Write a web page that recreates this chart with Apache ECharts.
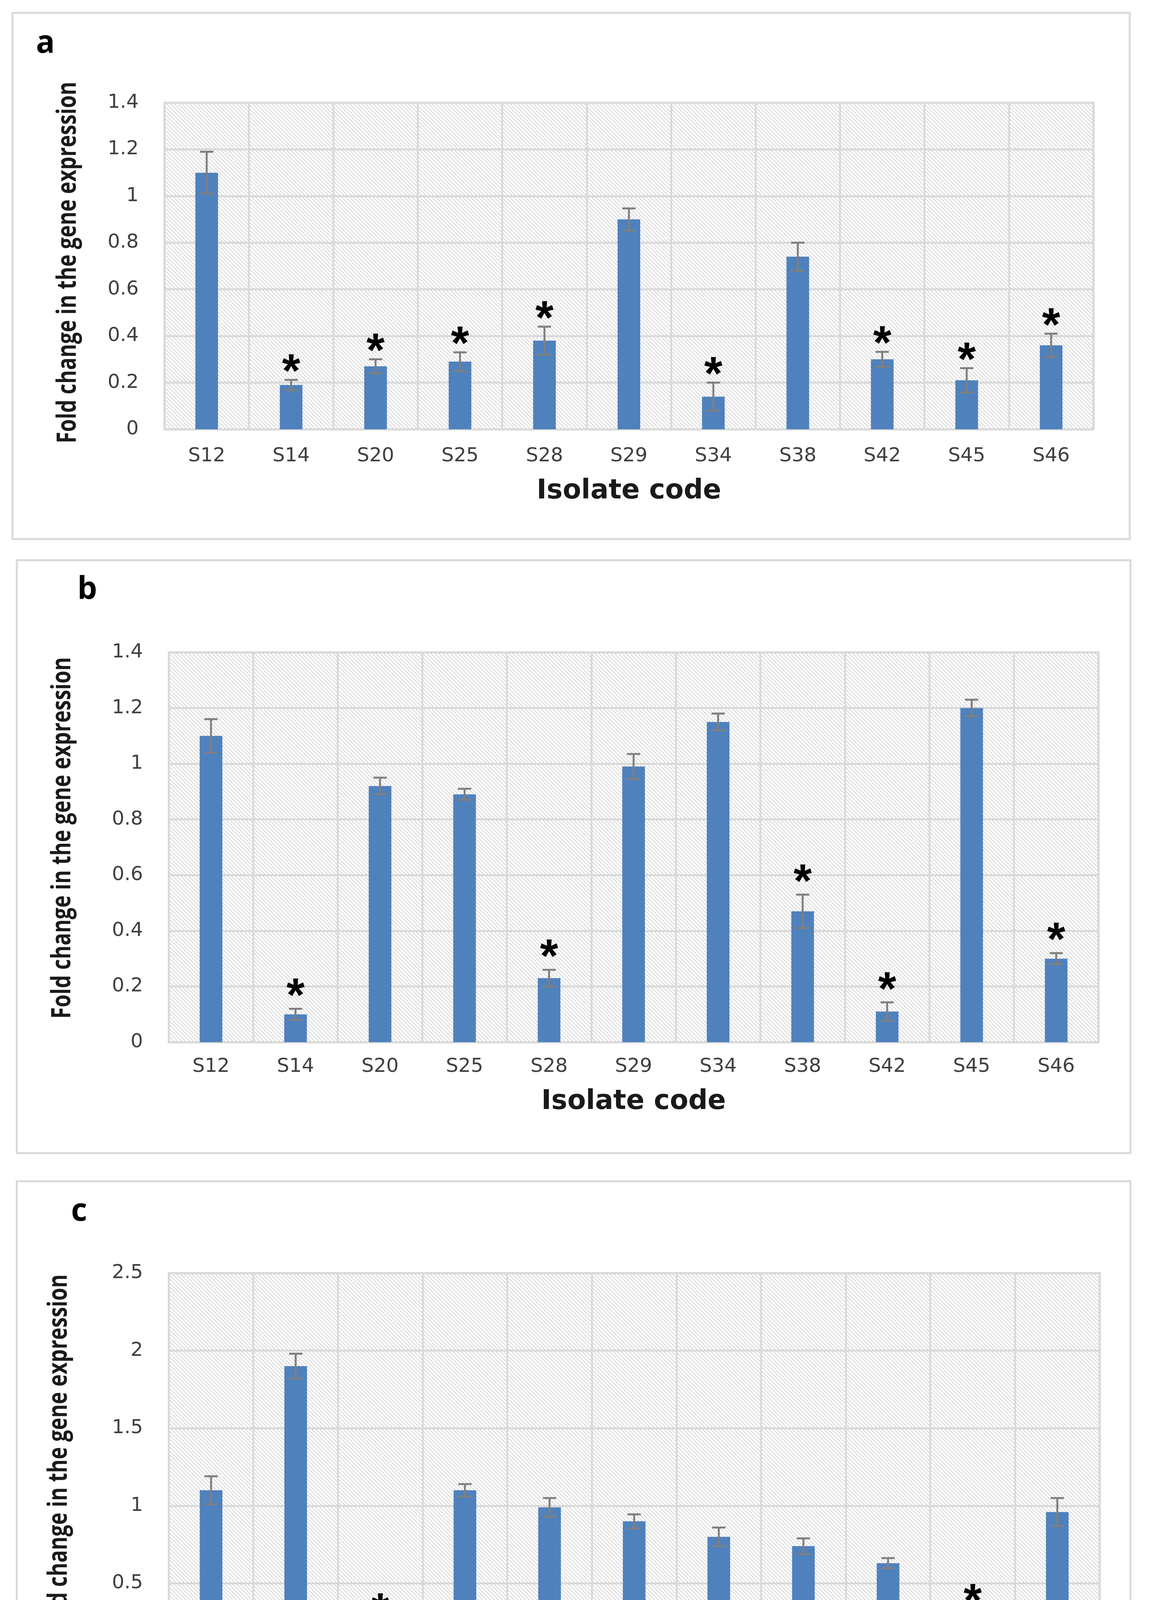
<!DOCTYPE html>
<html>
<head>
<meta charset="utf-8">
<script src="https://cdn.jsdelivr.net/npm/echarts@6/dist/echarts.min.js"></script>
<style>
html,body{margin:0;padding:0;background:#fff;overflow:hidden;}
#chart{width:2944px;height:4563px;}
</style>
</head>
<body>
<div id="chart"></div>
<script>
// ---- data ----
const categories = ['S12','S14','S20','S25','S28','S29','S34','S38','S42','S45','S46'];

const valuesA = [1.10, 0.19, 0.27, 0.29, 0.38, 0.90, 0.14, 0.74, 0.30, 0.21, 0.36];
const errorsA = [0.09, 0.022, 0.03, 0.04, 0.06, 0.047, 0.06, 0.06, 0.032, 0.052, 0.05];
const starsA  = [0, 1, 1, 1, 1, 0, 1, 0, 1, 1, 1];

const valuesB = [1.10, 0.10, 0.92, 0.89, 0.23, 0.99, 1.15, 0.47, 0.11, 1.20, 0.30];
const errorsB = [0.06, 0.02, 0.03, 0.02, 0.03, 0.045, 0.03, 0.06, 0.033, 0.03, 0.02];
const starsB  = [0, 1, 0, 0, 1, 0, 0, 1, 1, 0, 1];

const valuesC = [1.10, 1.90, 0.20, 1.10, 0.99, 0.90, 0.80, 0.74, 0.63, 0.21, 0.96];
const errorsC = [0.09, 0.08, 0.03, 0.04, 0.06, 0.045, 0.06, 0.05, 0.033, 0.08, 0.09];
const starsC  = [0, 0, 1, 0, 0, 0, 0, 0, 0, 1, 0];

const yMaxAB = 1.4, yStepAB = 0.2;
const yMaxC = 2.5, yStepC = 0.5;
const panelLetters = ['a', 'b', 'c'];
const xTitle = 'Isolate code';
const yTitle = 'Fold change in the gene expression';

// ---- styling ----
const BAR = '#4F81BD';
const GRIDC = '#d9d9d9';
const ERRC = '#7f7f7f';
const TICKFONT = '"DejaVu Sans", sans-serif';
const TITLEFONT = '"Open Sans", "Noto Sans", sans-serif';

// hatch pattern
const pc = document.createElement('canvas');
pc.width = 10; pc.height = 10;
const g = pc.getContext('2d');
g.fillStyle = '#ffffff'; g.fillRect(0,0,10,10);
g.strokeStyle = '#c4c4c4'; g.lineWidth = 1.4;
g.beginPath();
g.moveTo(-1,-1); g.lineTo(11,11);
g.moveTo(-6,4); g.lineTo(6,16);
g.moveTo(4,-6); g.lineTo(16,6);
g.stroke();
const hatch = {image: pc, repeat: 'repeat'};

const grids = [
  {left: 421, top: 263, width: 2378, height: 836},
  {left: 432, top: 1670, width: 2380, height: 998},
  {left: 432, top: 3259, width: 2383, height: 993}
];
const xLabelMargins = [44, 38, 32];
const xNameGaps = [125, 119, 115];
const yTitlePos = [[174, 672], [160, 2145], [151, 3725]];
const starGaps = [42, 54, 58];
const panels = [
  {v: valuesA, e: errorsA, s: starsA, max: yMaxAB, step: yStepAB},
  {v: valuesB, e: errorsB, s: starsB, max: yMaxAB, step: yStepAB},
  {v: valuesC, e: errorsC, s: starsC, max: yMaxC, step: yStepC}
];

const STARF = 120;

const option = {
  animation: false,
  backgroundColor: '#ffffff',
  grid: grids.map(gr => Object.assign({show: true, backgroundColor: hatch, borderColor: GRIDC, borderWidth: 5}, gr)),
  xAxis: panels.map((p, i) => ({
    type: 'category', gridIndex: i, data: categories,
    axisLine: {show: true, lineStyle: {color: GRIDC, width: 5}},
    axisTick: {show: false},
    splitLine: {show: true, lineStyle: {color: GRIDC, width: 5}},
    axisLabel: {fontSize: 50, color: '#404040', fontFamily: TICKFONT, margin: xLabelMargins[i]},
    name: xTitle, nameLocation: 'middle', nameGap: xNameGaps[i],
    nameTextStyle: {fontSize: 69, fontWeight: 'bold', color: '#1a1a1a', fontFamily: TICKFONT}
  })),
  yAxis: panels.map((p, i) => ({
    type: 'value', gridIndex: i, min: 0, max: p.max, interval: p.step,
    axisLine: {show: false}, axisTick: {show: false},
    splitLine: {show: true, lineStyle: {color: GRIDC, width: 5}},
    axisLabel: {fontSize: 50, color: '#404040', fontFamily: TICKFONT, margin: 66}
  })),
  series: [],
  graphic: [
    {type: 'rect', shape: {x: 32, y: 33, width: 2860, height: 1347}, style: {fill: 'none', stroke: GRIDC, lineWidth: 5}, z: -1},
    {type: 'rect', shape: {x: 43, y: 1434, width: 2851, height: 1518}, style: {fill: 'none', stroke: GRIDC, lineWidth: 5}, z: -1},
    {type: 'rect', shape: {x: 43, y: 3024, width: 2851, height: 1494}, style: {fill: 'none', stroke: GRIDC, lineWidth: 5}, z: -1},
    {type: 'text', left: 92, top: 72, style: {text: panelLetters[0], font: 'bold 80px ' + TITLEFONT, fill: '#000'}},
    {type: 'text', left: 198, top: 1470, style: {text: panelLetters[1], font: 'bold 80px ' + TITLEFONT, fill: '#000'}},
    {type: 'text', left: 182, top: 3062, style: {text: panelLetters[2], font: 'bold 80px ' + TITLEFONT, fill: '#000'}}
  ].concat(yTitlePos.map(pos => ({
    type: 'text', x: pos[0], y: pos[1], rotation: Math.PI / 2, scaleY: 1.3,
    style: {text: yTitle, font: 'bold 53px ' + TITLEFONT, fill: '#1a1a1a', align: 'center', verticalAlign: 'middle'}
  })))
};

panels.forEach((p, i) => {
  option.series.push({
    type: 'bar', xAxisIndex: i, yAxisIndex: i, data: p.v, barWidth: 58,
    itemStyle: {color: BAR}, z: 2
  });
  option.series.push({
    type: 'custom', xAxisIndex: i, yAxisIndex: i, z: 3,
    data: p.v.map((v, k) => [k, v, p.e[k], p.s[k]]),
    renderItem: function (params, api) {
      const k = api.value(0), v = api.value(1), e = api.value(2), st = api.value(3);
      const top = api.coord([k, v + e]);
      const bot = api.coord([k, v - e]);
      const x = top[0], hw = 17;
      const ls = {stroke: ERRC, lineWidth: 5};
      const children = [
        {type: 'line', shape: {x1: x, y1: top[1], x2: x, y2: bot[1]}, style: ls},
        {type: 'line', shape: {x1: x - hw, y1: top[1], x2: x + hw, y2: top[1]}, style: ls},
        {type: 'line', shape: {x1: x - hw, y1: bot[1], x2: x + hw, y2: bot[1]}, style: ls}
      ];
      if (st) {
        children.push({type: 'text', style: {text: '*', x: x, y: top[1] - starGaps[i] + 0.22 * STARF, align: 'center', verticalAlign: 'middle', font: 'bold ' + STARF + 'px "Liberation Sans", Arial, sans-serif', fill: '#000'}});
      }
      return {type: 'group', children: children};
    }
  });
});

const chart = echarts.init(document.getElementById('chart'), null, {width: 2944, height: 4563, renderer: 'canvas'});
chart.setOption(option);
</script>
</body>
</html>
